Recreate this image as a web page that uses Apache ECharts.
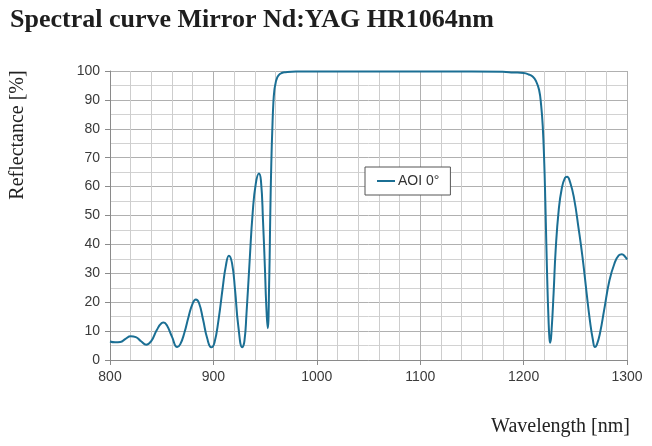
<!DOCTYPE html>
<html><head><meta charset="utf-8">
<script src="https://cdn.jsdelivr.net/npm/echarts@6/dist/echarts.min.js"></script>
<style>html,body{margin:0;padding:0;background:#fff}#c{width:652px;height:446px}</style>
</head><body><div id="c"></div>
<script>
const wavelength = [800,805,810,815,820,825,830,835,840,845,850,852,855,860,865,868,872,876,880,883,886,890,894,898,901,905,909,912,915,918,921,924,928,930,932,935,938,941,944,946,948,950,951,952.5,954,955,956,957,958,959,960,961,963,966,970,980,1000,1050,1100,1150,1180,1190,1200,1205,1209,1212,1215,1217,1218.5,1220,1221,1222,1223,1224,1225,1225.8,1227,1229,1231,1234,1237,1240,1242,1245,1249,1253,1257,1261,1264,1267,1269,1271,1274,1278,1283,1288,1292,1295,1298,1300];
const reflectance = [6.4,6.1,6.2,7.3,8.2,7.9,6.5,5.3,6.6,10.2,12.8,13.0,12.0,8.0,4.5,5.5,9.5,15.0,19.6,20.9,19.8,14.0,7.5,4.4,6.0,14.0,25.0,32.5,36.1,33.5,24.0,12.0,4.4,6.5,16.0,34.0,51.0,61.0,64.5,62.0,48.0,30.0,20.0,11.0,28.0,50.0,68.0,80.0,89.0,93.5,95.5,97.0,98.5,99.3,99.6,99.8,99.8,99.8,99.8,99.8,99.7,99.5,99.3,98.8,98.0,96.5,93.4,88.0,81.0,68.0,55.0,40.0,26.0,15.0,7.5,6.0,10.0,23.0,38.0,52.0,59.5,63.0,63.4,61.5,55.5,46.0,35.5,23.0,14.0,7.0,4.5,5.5,9.5,17.5,27.5,33.5,36.2,36.6,35.8,34.8];
const seriesName = 'AOI 0°';
const titleText = 'Spectral curve Mirror Nd:YAG HR1064nm';
const xTitle = 'Wavelength [nm]';
const yTitle = 'Reflectance [%]';

const chart = echarts.init(document.getElementById('c'), null, {renderer:'canvas'});
const pts = wavelength.map((w,i)=>[w, reflectance[i]]);
chart.setOption({
  animation:false,
  title:{text:titleText,left:5,top:2,textStyle:{fontFamily:'Liberation Serif',fontWeight:'bold',fontSize:26,color:'#1e1e1e'}},
  grid:{left:110,right:25,top:71,bottom:86},
  legend:{data:[{name:seriesName,icon:'rect'}],left:365,top:167,width:70,itemWidth:18,itemHeight:2,itemGap:4,
    padding:[7,11,7,12],borderColor:'#555',borderWidth:1,backgroundColor:'#fff',
    textStyle:{fontFamily:'Liberation Sans',fontSize:14,color:'#333',padding:[0,0,0,-2]}},
  xAxis:{type:'value',min:800,max:1300,interval:100,
    axisLine:{show:true,lineStyle:{color:'#8a8a8a',width:1}},
    axisTick:{show:true,length:5,lineStyle:{color:'#8a8a8a'}},
    axisLabel:{fontFamily:'Liberation Sans',fontSize:14,color:'#3a3a3a',margin:10,formatter:v=>String(v)},
    splitLine:{show:true,lineStyle:{color:'#b0b0b0',width:1}},
    minorTick:{show:false,splitNumber:5},
    minorSplitLine:{show:true,lineStyle:{color:'#cdcdcd',width:1}}},
  yAxis:{type:'value',min:0,max:100,interval:10,
    axisLine:{show:true,lineStyle:{color:'#8a8a8a',width:1}},
    axisTick:{show:true,length:5,lineStyle:{color:'#8a8a8a'}},
    axisLabel:{fontFamily:'Liberation Sans',fontSize:14,color:'#3a3a3a',margin:10},
    splitLine:{show:true,lineStyle:{color:'#b0b0b0',width:1}},
    minorTick:{show:false,splitNumber:2},
    minorSplitLine:{show:true,lineStyle:{color:'#d2d2d2',width:1}}},
  graphic:[
    {type:'text',x:18,y:135,rotation:Math.PI/2,style:{text:yTitle,fontFamily:'Liberation Serif',fontSize:20,fill:'#222',textAlign:'center',textVerticalAlign:'middle'}},
    {type:'text',right:22,top:417,style:{text:xTitle,fontFamily:'Liberation Serif',fontSize:20,fill:'#222'}}
  ],
  series:[{name:seriesName,type:'line',data:pts,showSymbol:false,smooth:0.5,
    lineStyle:{color:'#1b6f94',width:2},itemStyle:{color:'#1b6f94'}}]
});
</script></body></html>
